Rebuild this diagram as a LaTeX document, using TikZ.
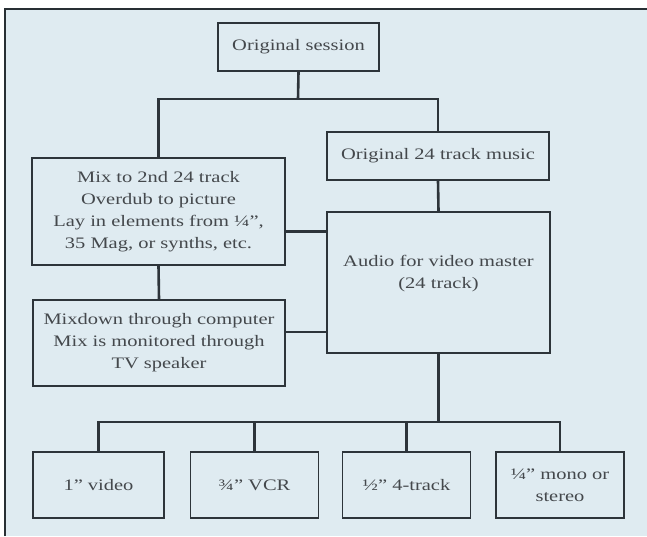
\documentclass[tikz,border=0pt]{standalone}
\usepackage{fontspec}
\setmainfont[FakeStretch=1.28]{Liberation Serif}
\usepackage{tikz}
\usetikzlibrary{positioning, calc}
\usepackage{xcolor}
\definecolor{paper}{RGB}{223,235,241}
\definecolor{ink}{RGB}{45,52,58}
\definecolor{print}{RGB}{68,72,76}
\tikzset{
  box/.style={rectangle, draw=ink, fill=paper, line width=1.5pt,
              inner sep=0pt, align=center, text=print,
              font=\fontsize{16}{22}\selectfont},
  smallbox/.style={box, minimum width=128pt, minimum height=66pt},
  link/.style={draw=ink, line width=2.6pt},
  frame/.style={draw=ink!90!black, line width=2.2pt},
}

\begin{document}
\begin{tikzpicture}[x=1pt, y=-1pt]
  \useasboundingbox (0,0) rectangle (647,536);
  \fill[paper] (5,9) rectangle (647,536);
  \draw[frame] (5,536) -- (5,9) -- (647,9);

  \node[box, minimum width=161pt, minimum height=48pt] (session) at (298.5,47) {Original session};
  \node[box, minimum width=222pt, minimum height=48pt] (music) at (438,156) {Original 24 track music};
  \node[box, minimum width=253pt, minimum height=107pt] (mix) at (158.5,211.5)
    {Mix to 2nd 24 track\\Overdub to picture\\Lay in elements from ¼”,\\35 Mag, or synths, etc.};
  \node[box, minimum width=223pt, minimum height=141pt] (audio) at (438.5,282.5)
    {Audio for video master\\(24 track)\\\mbox{}};
  \node[box, minimum width=252pt, minimum height=86pt] (mixdown) at (159,343)
    {Mixdown through computer\\Mix is monitored through\\TV speaker};

  \node[smallbox, minimum width=131pt] (video) at (98.5,485) {1” video};
  \node[smallbox] (vcr) at (254.5,485) {¾” VCR};
  \node[smallbox] (four) at (406.5,485) {½” 4-track};
  \node[smallbox] (mono) at (560,485) {¼” mono or\\stereo};

  % upper tree
  \coordinate (split) at (298,99);
  \draw[link] (session.south) -- (split);
  \draw[link] (mix.north) |- (split) -| (music.north);
  \draw[link] (music.south) -- (audio.north);
  \draw[link] (mix.south) -- (mixdown.north);
  \draw[link] ([yshift=-20pt]mix.east) -- ([yshift=-20pt]mix.east -| audio.west);
  \draw[link] ([yshift=11pt]mixdown.east) -- ([yshift=11pt]mixdown.east -| audio.west);

  % release formats
  \coordinate (fork) at (438.5,422);
  \draw[link] (audio.south) -- (fork);
  \draw[link] (video.north) |- (fork) -| (mono.north);
  \draw[link] (vcr.north) -- (vcr.north |- fork);
  \draw[link] (four.north) -- (four.north |- fork);
\end{tikzpicture}
\end{document}
